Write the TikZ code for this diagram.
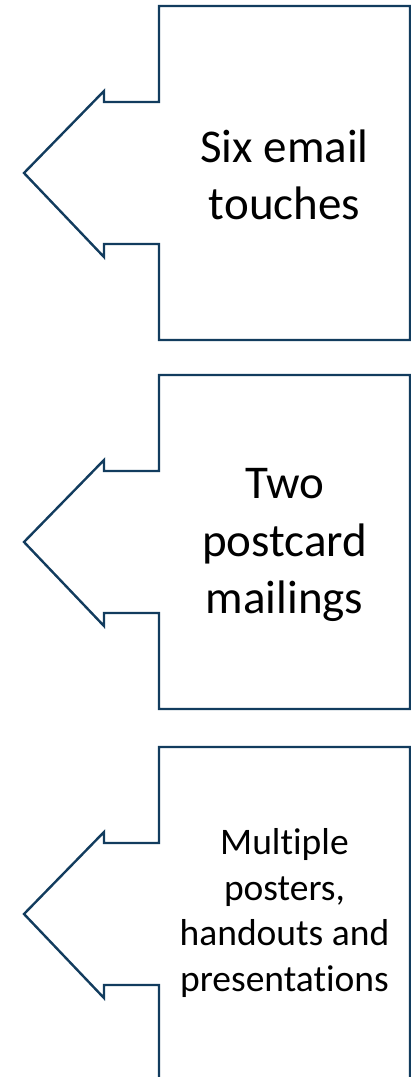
\documentclass[tikz,border=0pt]{standalone}
\usepackage{fontspec}
\setmainfont{Carlito}[RawFeature=-liga]
\definecolor{navy}{RGB}{18,60,94}
\tikzset{
  x=1pt,y=-1pt,
  outline/.style={draw=navy,line width=2.4pt,line join=miter,fill=white},
  bigtext/.style={font=\fontsize{47}{57.5}\selectfont,align=center,text=black,inner sep=0pt},
  smalltext/.style={font=\fontsize{37.5}{45.5}\selectfont,align=center,text=black,inner sep=0pt},
  pics/leftcallout/.style={code={
    \draw[outline] (159,0) -- (410,0) -- (410,334) -- (159,334) -- (159,238)
      -- (104,238) -- (104,251) -- (24,167) -- (104,85) -- (104,96) -- (159,96) -- cycle;
  }}
}
\begin{document}
\begin{tikzpicture}
\useasboundingbox (0,0) rectangle (411,1077);
\clip (0,0) rectangle (411,1077);
\pic (c1) at (0,6) {leftcallout};
\pic (c2) at (0,375) {leftcallout};
\pic (c3) at (0,747) {leftcallout};
\node[bigtext] (t1) at (284.5,175) {Six email\\touches};
\node[bigtext] (t2) at (284.5,545) {Two\\postcard\\mailings};
\node[smalltext] (t3) at (284.5,913) {Multiple\\posters,\\handouts and\\presentations};
\end{tikzpicture}
\end{document}
